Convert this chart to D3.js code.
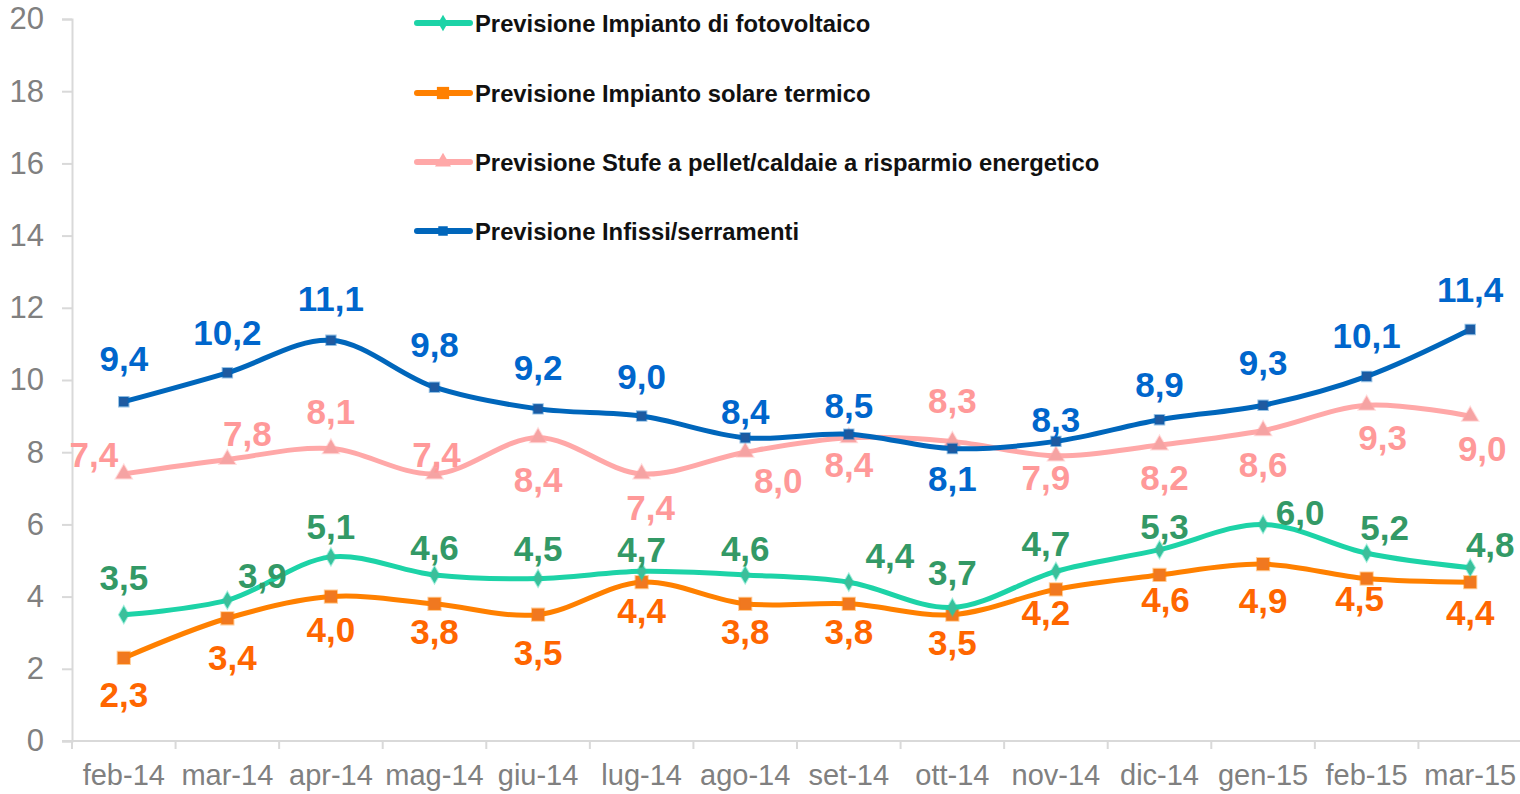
<!DOCTYPE html>
<html>
<head>
<meta charset="utf-8">
<script src="https://cdn.jsdelivr.net/npm/d3@7"></script>
<style>
    html, body { margin: 0; padding: 0; background: #fff; }
    svg { display: block; font-family: "Liberation Sans", Arial, sans-serif; }
</style>
</head>
<body>
<svg id="chart" width="1520" height="794"></svg>
<script>
// Data
const months = ['feb-14', 'mar-14', 'apr-14', 'mag-14', 'giu-14', 'lug-14', 'ago-14',
    'set-14', 'ott-14', 'nov-14', 'dic-14', 'gen-15', 'feb-15', 'mar-15'];
const fotovoltaico = [3.5, 3.9, 5.1, 4.6, 4.5, 4.7, 4.6, 4.4, 3.7, 4.7, 5.3, 6.0, 5.2, 4.8];
const solareTermico = [2.3, 3.4, 4.0, 3.8, 3.5, 4.4, 3.8, 3.8, 3.5, 4.2, 4.6, 4.9, 4.5, 4.4];
const stufePellet = [7.4, 7.8, 8.1, 7.4, 8.4, 7.4, 8.0, 8.4, 8.3, 7.9, 8.2, 8.6, 9.3, 9.0];
const infissi = [9.4, 10.2, 11.1, 9.8, 9.2, 9.0, 8.4, 8.5, 8.1, 8.3, 8.9, 9.3, 10.1, 11.4];
const yTicks = [0, 2, 4, 6, 8, 10, 12, 14, 16, 18, 20];

// Label placement (pixel offsets from the point), layout only
const fotoLabelPos = [[0,-37],[35,-25],[0,-30],[0,-27],[0,-30],[0,-22],[0,-26],[41,-27],[0,-35],[-10,-28],[5,-23],[37,-12],[18,-26],[20,-23]];
const solareLabelPos = [[0,37],[5,39],[0,33],[0,28],[0,38],[0,28],[0,28],[0,28],[0,28],[-10,23],[6,25],[0,36],[-7,20],[0,30]];
const stufeLabelPos = [[-30,-19],[20,-26],[0,-37],[2,-19],[0,42],[9,34],[33,28],[0,27],[0,-41],[-10,22],[5,33],[0,34],[16,32],[12,32]];
const infissiLabelPos = [[0,-43],[0,-40],[0,-42],[0,-43],[0,-41],[0,-40],[0,-26],[0,-29],[0,30],[0,-22],[0,-35],[0,-43],[0,-41],[0,-40]];

const series = [
    { name: 'Previsione Impianto di fotovoltaico', values: fotovoltaico, pos: fotoLabelPos,
      line: '#1DD3A7', marker: '#3DBE9A', label: '#339966', symbol: d3.symbolDiamond, size: 80 },
    { name: 'Previsione Impianto solare termico', values: solareTermico, pos: solareLabelPos,
      line: '#FF8000', marker: '#F07820', label: '#FF6600', symbol: d3.symbolSquare, size: 150 },
    { name: 'Previsione Stufe a pellet/caldaie a risparmio energetico', values: stufePellet, pos: stufeLabelPos,
      line: '#FFA8A8', marker: '#F5A3A3', label: '#FF9999', symbol: d3.symbolTriangle, size: 110 },
    { name: 'Previsione Infissi/serramenti', values: infissi, pos: infissiLabelPos,
      line: '#0066BB', marker: '#1F5AA0', label: '#0066CC', symbol: d3.symbolSquare, size: 90 }
];

const svg = d3.select('#chart');
const plotLeft = 72, plotRight = 1522, plotTop = 19, plotBottom = 741;

const x = d3.scaleBand().domain(months).range([plotLeft, plotRight]);
const y = d3.scaleLinear().domain([0, 20]).range([plotBottom, plotTop]);
const cx = m => x(m) + x.bandwidth() / 2;

// Y axis
const yAxis = svg.append('g')
    .attr('transform', `translate(${plotLeft},0)`)
    .call(d3.axisLeft(y).tickValues(yTicks).tickSize(10).tickPadding(18));
yAxis.select('.domain').attr('stroke', '#D9D9D9').attr('stroke-width', 2);
yAxis.selectAll('.tick line').attr('stroke', '#D9D9D9').attr('stroke-width', 2);
yAxis.selectAll('.tick text')
    .attr('fill', '#808080')
    .attr('font-size', '31px')
    .attr('font-family', '"Liberation Sans", Arial, sans-serif');

// X axis: ticks between categories
const xAxis = svg.append('g')
    .attr('transform', `translate(0,${plotBottom})`);
xAxis.append('line')
    .attr('x1', plotLeft - 10).attr('x2', plotRight)
    .attr('stroke', '#D9D9D9').attr('stroke-width', 2);
xAxis.selectAll('.xtick')
    .data(months.concat(['__end']))
    .join('line')
    .attr('class', 'xtick')
    .attr('x1', (d, i) => i < months.length ? x(d) : plotRight)
    .attr('x2', (d, i) => i < months.length ? x(d) : plotRight)
    .attr('y1', 0).attr('y2', 8)
    .attr('stroke', '#D9D9D9').attr('stroke-width', 2);
xAxis.selectAll('.xlabel')
    .data(months)
    .join('text')
    .attr('class', 'xlabel')
    .attr('x', d => cx(d))
    .attr('y', 44)
    .attr('text-anchor', 'middle')
    .attr('fill', '#808080')
    .attr('font-size', '29px')
    .text(d => d);

// Lines
const lineGen = d3.line()
    .x((d, i) => cx(months[i]))
    .y(d => y(d))
    .curve(d3.curveCatmullRom.alpha(0.5));

// draw in stacking order: pink, blue, orange, teal
const drawOrder = [2, 3, 1, 0];
drawOrder.forEach(k => {
    const s = series[k];
    const g = svg.append('g');
    g.append('path')
        .attr('d', lineGen(s.values))
        .attr('fill', 'none')
        .attr('stroke', s.line)
        .attr('stroke-width', 5)
        .attr('stroke-linecap', 'round');
    g.selectAll('.marker')
        .data(s.values)
        .join('path')
        .attr('class', 'marker')
        .attr('d', d3.symbol().type(s.symbol).size(s.size))
        .attr('transform', (d, i) => `translate(${cx(months[i])},${y(d)})`)
        .attr('fill', s.marker)
        .attr('stroke', s.line)
        .attr('stroke-opacity', 0.4)
        .attr('stroke-width', 2);
});

// Data labels
series.forEach(s => {
    svg.append('g').selectAll('text')
        .data(s.values)
        .join('text')
        .attr('x', (d, i) => cx(months[i]) + s.pos[i][0])
        .attr('y', (d, i) => y(d) + s.pos[i][1])
        .attr('text-anchor', 'middle')
        .attr('dominant-baseline', 'central')
        .attr('fill', s.label)
        .attr('font-size', '35px')
        .attr('font-weight', 'bold')
        .text(d => d3.format('.1f')(d).replace('.', ','));
});

// Legend
const legendY = [23, 93, 162, 231];
const legend = svg.append('g');
series.forEach((s, i) => {
    const row = legend.append('g').attr('transform', `translate(0,${legendY[i]})`);
    row.append('line')
        .attr('x1', 417).attr('x2', 470)
        .attr('stroke', s.line).attr('stroke-width', 6)
        .attr('stroke-linecap', 'round');
    row.append('path')
        .attr('d', d3.symbol().type(s.symbol).size(s.size))
        .attr('transform', 'translate(443,0)')
        .attr('fill', s.line);
    row.append('text')
        .attr('x', 475)
        .attr('y', 0)
        .attr('dominant-baseline', 'central')
        .attr('font-size', '23.8px')
        .attr('font-weight', 'bold')
        .attr('fill', '#111')
        .text(s.name);
});
</script>
</body>
</html>
